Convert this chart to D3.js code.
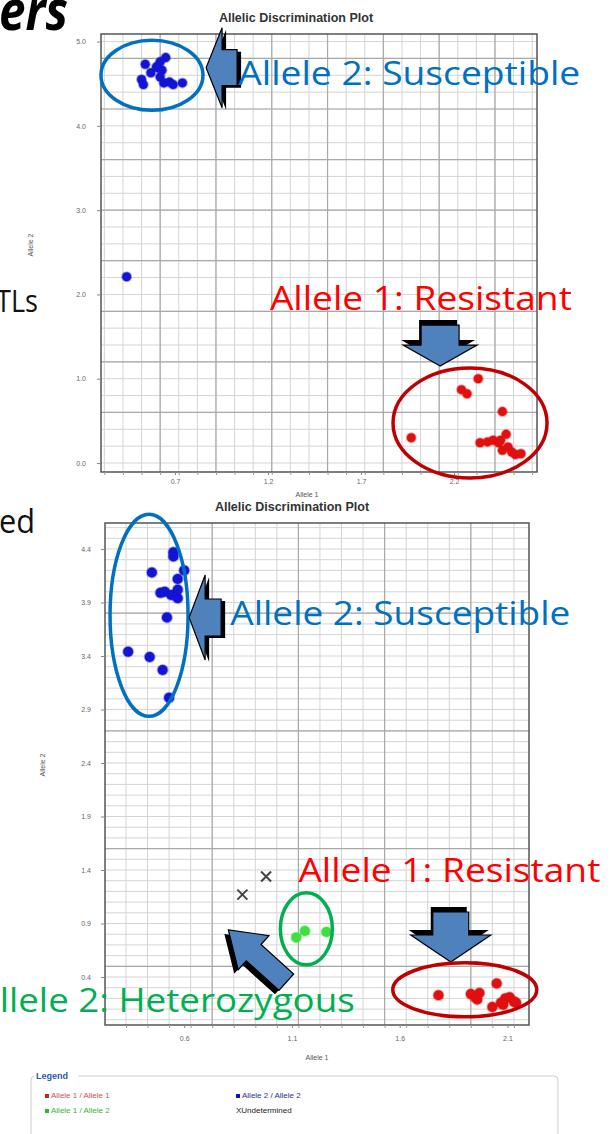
<!DOCTYPE html>
<html>
<head>
<meta charset="utf-8">
<script src="https://cdn.jsdelivr.net/npm/d3@7"></script>
<style>
  body { margin: 0; background: #fff; }
  svg { display: block; }
</style>
</head>
<body>
<svg id="chart" width="613" height="1134"></svg>
<script>
// ---- plot 1 (top) : Allele 1 on x, Allele 2 on y
const top_allele22 = [[0.54,4.73],[0.52,4.55],[0.53,4.49],[0.57,4.63],[0.60,4.70],[0.62,4.76],
  [0.63,4.66],[0.65,4.81],[0.62,4.58],[0.64,4.51],[0.67,4.52],[0.69,4.49],[0.74,4.51],[0.61,4.69],
  [0.44,2.21]];
const top_allele11 = [[2.33,1.00],[2.24,0.87],[2.27,0.82],[2.46,0.61],[1.97,0.30],[2.48,0.34],
  [2.34,0.24],[2.38,0.25],[2.41,0.27],[2.44,0.24],[2.46,0.15],[2.49,0.19],[2.51,0.13],[2.53,0.10],
  [2.56,0.11],[2.45,0.27]];
const top_xticks = [0.7, 1.2, 1.7, 2.2];
const top_yticks = [0, 1, 2, 3, 4, 5];

// ---- plot 2 (bottom)
const bot_allele22 = [[0.55,4.37],[0.55,4.33],[0.45,4.18],[0.60,4.20],[0.57,4.12],[0.49,3.99],
  [0.51,4.00],[0.54,3.97],[0.57,3.94],[0.57,4.02],[0.52,3.76],[0.34,3.44],[0.44,3.39],[0.50,3.27],
  [0.53,3.01]];
const bot_allele11 = [[1.78,0.23],[1.93,0.24],[1.95,0.21],[1.97,0.25],[1.96,0.19],[2.05,0.34],
  [2.03,0.12],[2.07,0.16],[2.09,0.20],[2.11,0.21],[2.13,0.17],[2.14,0.16],[2.08,0.14]];
const bot_allele12 = [[1.12,0.77],[1.16,0.83],[1.26,0.82]];
const bot_undet = [[0.98,1.34],[0.87,1.17]];
const bot_xticks = [0.6, 1.1, 1.6, 2.1];
const bot_yticks = [0.4, 0.9, 1.4, 1.9, 2.4, 2.9, 3.4, 3.9, 4.4];

const legend_items = [
  {label: "Allele 1 / Allele 1", color: "#d62020", txt: "#d05050"},
  {label: "Allele 1 / Allele 2", color: "#22c022", txt: "#40b040"},
  {label: "Allele 2 / Allele 2", color: "#1010c0", txt: "#303090"},
  {label: "Undetermined", color: "#222", txt: "#222"}
];

const svg = d3.select("#chart");
const blue = "#1414d4", red = "#e01010", green = "#3ee03e";

function drawPlot(o) {
  const g = svg.append("g");
  const x = d3.scaleLinear().domain(o.xDom).range([o.l, o.r]);
  const y = d3.scaleLinear().domain(o.yDom).range([o.b, o.t]);

  g.append("rect").attr("x", o.l).attr("y", o.t)
    .attr("width", o.r - o.l).attr("height", o.b - o.t).attr("fill", "#fff");

  // grid
  g.selectAll(".gx").data(o.xMinor).join("line")
    .attr("x1", d => x(d)).attr("x2", d => x(d)).attr("y1", o.t).attr("y2", o.b)
    .attr("stroke", "#d4d4d4").attr("stroke-width", 1);
  g.selectAll(".gy").data(o.yMinor).join("line")
    .attr("y1", d => y(d)).attr("y2", d => y(d)).attr("x1", o.l).attr("x2", o.r)
    .attr("stroke", "#d4d4d4").attr("stroke-width", 1);
  g.selectAll(".gX").data(o.xMajor).join("line")
    .attr("x1", d => x(d)).attr("x2", d => x(d)).attr("y1", o.t).attr("y2", o.b)
    .attr("stroke", "#a9a9a9").attr("stroke-width", 1.2);
  g.selectAll(".gY").data(o.yMajor).join("line")
    .attr("y1", d => y(d)).attr("y2", d => y(d)).attr("x1", o.l).attr("x2", o.r)
    .attr("stroke", "#a9a9a9").attr("stroke-width", 1.2);

  g.append("rect").attr("x", o.l).attr("y", o.t)
    .attr("width", o.r - o.l).attr("height", o.b - o.t)
    .attr("fill", "none").attr("stroke", "#555").attr("stroke-width", 1.5);

  // axes
  const ax = g.append("g").attr("transform", `translate(0,${o.b})`)
    .call(d3.axisBottom(x).tickValues(o.xTicks).tickFormat(d3.format(".1f"))
      .tickSize(3).tickPadding(o.xPad));
  g.append("g").attr("transform", `translate(0,${o.b})`)
    .call(d3.axisBottom(x).tickValues(o.xMinor).tickFormat("").tickSize(3))
    .call(a => a.select(".domain").remove())
    .selectAll("line").attr("stroke", "#999");
  const ay = g.append("g").attr("transform", `translate(${o.l},0)`)
    .call(d3.axisLeft(y).tickValues(o.yTicks).tickFormat(d3.format(".1f"))
      .tickSize(4).tickPadding(o.yPad));
  [ax, ay].forEach(a => {
    a.select(".domain").remove();
    a.selectAll("line").attr("stroke", "#888");
    a.selectAll("text").attr("fill", "#666").attr("font-size", 7)
      .attr("font-family", "Liberation Sans, Arial, sans-serif");
  });

  g.append("text").attr("x", o.xTitle[0]).attr("y", o.xTitle[1])
    .attr("text-anchor", "middle").attr("font-size", 7).attr("fill", "#555")
    .attr("font-family", "Liberation Sans, Arial, sans-serif").text("Allele 1");
  g.append("text").attr("transform", `translate(${o.yTitle[0]},${o.yTitle[1]}) rotate(-90)`)
    .attr("text-anchor", "middle").attr("font-size", 7).attr("fill", "#555")
    .attr("font-family", "Liberation Sans, Arial, sans-serif").text("Allele 2");

  return {g, x, y};
}

function dots(p, data, color, r) {
  p.g.append("g").selectAll("circle").data(data).join("circle")
    .attr("cx", d => p.x(d[0])).attr("cy", d => p.y(d[1])).attr("r", r)
    .attr("fill", color).attr("stroke", color).attr("stroke-opacity", 0.35).attr("stroke-width", 2);
}

function arrow(tx, ty, ang, len, headLen, headW, shaftW, sdx, sdy) {
  const pts = [[0,0],[headLen,-headW/2],[headLen,-shaftW/2],[len,-shaftW/2],
               [len,shaftW/2],[headLen,shaftW/2],[headLen,headW/2]];
  const d = d3.line()(pts) + "Z";
  svg.append("path").attr("d", d).attr("fill", "#000")
    .attr("transform", `translate(${tx + sdx},${ty + sdy}) rotate(${ang})`);
  svg.append("path").attr("d", d).attr("fill", "#4f81bd").attr("stroke", "#000").attr("stroke-width", 1.2)
    .attr("transform", `translate(${tx},${ty}) rotate(${ang})`);
}

function ellipse(cx, cy, rx, ry, color) {
  svg.append("ellipse").attr("cx", cx).attr("cy", cy).attr("rx", rx).attr("ry", ry)
    .attr("fill", "none").attr("stroke", color).attr("stroke-width", 3.5);
}

function note(x, y, str, color, size, width) {
  svg.append("text").attr("x", x).attr("y", y).attr("fill", color)
    .attr("font-family", "Open Sans, Noto Sans, sans-serif").attr("font-size", size)
    .attr("textLength", width).attr("lengthAdjust", "spacingAndGlyphs").text(str);
}

// ---- slide text fragments around the pictures
svg.append("text").attr("x", -1).attr("y", 30).attr("font-size", 55).attr("font-weight", "bold")
  .attr("font-style", "italic").attr("font-family", "Open Sans, sans-serif")
  .attr("textLength", 69).attr("lengthAdjust", "spacingAndGlyphs").text("ers");
note(-4, 312, "TLs", "#111", 31, 42);
note(-1, 533, "ed", "#111", 33, 36);

// ---- bottom plot first (its title is partly covered by the top picture)
const clip = svg.append("clipPath").attr("id", "cut");
clip.append("rect").attr("x", 0).attr("y", 500).attr("width", 613).attr("height", 40);
svg.append("text").attr("x", 292).attr("y", 511).attr("text-anchor", "middle")
  .attr("clip-path", "url(#cut)").attr("font-size", 12.5).attr("font-weight", "bold")
  .attr("fill", "#333").attr("font-family", "Liberation Sans, Arial, sans-serif")
  .text("Allelic Discrimination Plot");

const p2 = drawPlot({
  l: 105, r: 529, t: 523, b: 1025,
  xDom: [0.2326, 2.2], yDom: [-0.0486, 4.643],
  xMinor: d3.range(0.33, 2.2, 0.1), xMajor: d3.range(0.73, 2.2, 0.4),
  yMinor: d3.range(0, 4.64, 0.1), yMajor: [0.5, 1.6, 2.7, 3.8],
  xTicks: bot_xticks, yTicks: bot_yticks, xPad: 8, yPad: 10,
  xTitle: [317, 1060], yTitle: [45, 765]
});
dots(p2, bot_allele22, blue, 5);
dots(p2, bot_allele11, red, 5);
dots(p2, bot_allele12, green, 5);
p2.g.append("g").selectAll("path").data(bot_undet).join("path")
  .attr("d", d => {
    const cx = p2.x(d[0]), cy = p2.y(d[1]), s = 5;
    return `M${cx - s},${cy - s}L${cx + s},${cy + s}M${cx - s},${cy + s}L${cx + s},${cy - s}`;
  })
  .attr("stroke", "#444").attr("stroke-width", 2);

// ---- top plot
svg.append("rect").attr("x", 60).attr("y", 0).attr("width", 500).attr("height", 499).attr("fill", "none");
svg.append("text").attr("x", 296).attr("y", 22).attr("text-anchor", "middle")
  .attr("font-size", 12.5).attr("font-weight", "bold").attr("fill", "#333")
  .attr("font-family", "Liberation Sans, Arial, sans-serif").text("Allelic Discrimination Plot");

const p1 = drawPlot({
  l: 101, r: 537, t: 34, b: 472,
  xDom: [0.302, 2.646], yDom: [-0.107, 5.09],
  xMinor: d3.range(0.32, 2.64, 0.1), xMajor: d3.range(0.62, 2.64, 0.3),
  yMinor: d3.range(0, 5.09, 0.2), yMajor: d3.range(0.6, 5.09, 0.6),
  xTicks: top_xticks, yTicks: top_yticks, xPad: 4, yPad: 11,
  xTitle: [307, 497], yTitle: [33, 245]
});
dots(p1, top_allele22, blue, 4.5);
dots(p1, top_allele11, red, 4.5);

// ---- annotations, top picture
ellipse(p1.x(0.576), p1.y(4.60), 51, 35, "#0070c0");
arrow(p1.x(0.867), p1.y(4.69), 0, 31, 16, 80, 36, 4, 2);
note(p1.x(1.04), p1.y(4.49), "Allele 2: Susceptible", "#0070c0", 33, 342);
note(p1.x(1.21), p1.y(1.82), "Allele 1: Resistant", "#ff0000", 33, 302);
arrow(p1.x(2.125), p1.y(1.15), -90, 41, 21, 74, 38, -2, -5);
ellipse(p1.x(2.286), p1.y(0.475), 77, 55, "#c00000");

// ---- annotations, bottom picture
ellipse(p2.x(0.437), p2.y(3.78), 39, 101, "#0070c0");
arrow(p2.x(0.623), p2.y(3.76), 0, 32, 16, 85, 37, 4, 2);
note(p2.x(0.814), p2.y(3.69), "Allele 2: Susceptible", "#0070c0", 33, 340);
note(p2.x(1.13), p2.y(1.29), "Allele 1: Resistant", "#ff0000", 33, 302);
arrow(p2.x(1.837), p2.y(0.54), -90, 50, 27, 80, 36, -2, -5);
ellipse(p2.x(1.902), p2.y(0.28), 72, 27, "#c00000");
ellipse(p2.x(1.167), p2.y(0.85), 26, 36, "#00b050");
arrow(p2.x(0.805), p2.y(0.84), 42, 78, 34, 46, 22, -4, 4);
note(p2.x(-0.256), p2.y(0.07), "llele 2: Heterozygous", "#00b050", 33, 355);

// ---- legend
const lg = svg.append("g").attr("font-family", "Liberation Sans, Arial, sans-serif");
lg.append("rect").attr("x", 31).attr("y", 1076).attr("width", 527).attr("height", 80)
  .attr("rx", 4).attr("fill", "none").attr("stroke", "#ccc");
lg.append("rect").attr("x", 34).attr("y", 1070).attr("width", 44).attr("height", 10).attr("fill", "#fff");
lg.append("text").attr("x", 36).attr("y", 1079).attr("font-size", 9).attr("font-weight", "bold")
  .attr("fill", "#2a5caa").text("Legend");
const item = lg.selectAll(".it").data(legend_items).join("g")
  .attr("transform", (d, i) => `translate(${i < 2 ? 45 : 236},${1098 + (i % 2) * 15})`);
item.filter((d, i) => i < 3).append("rect").attr("x", 0).attr("y", -4).attr("width", 4).attr("height", 4)
  .attr("fill", d => d.color);
item.append("text").attr("x", (d, i) => i < 3 ? 6 : 0).attr("y", 0).attr("font-size", 8)
  .attr("fill", d => d.txt).text((d, i) => i < 3 ? d.label : "X" + d.label);
</script>
</body>
</html>
